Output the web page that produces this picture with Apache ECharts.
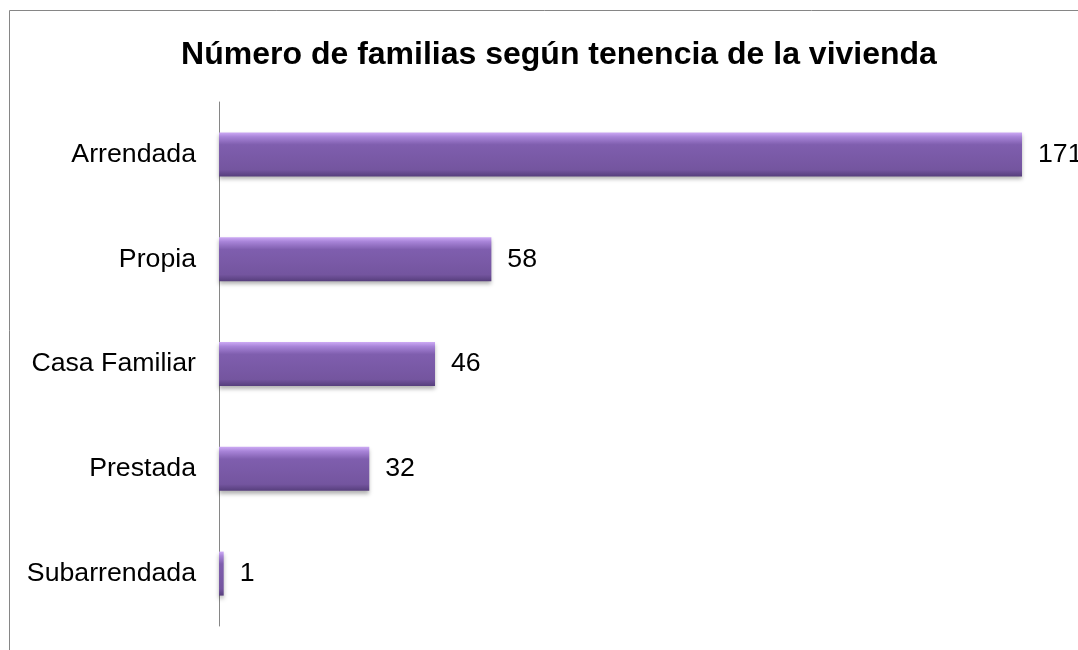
<!DOCTYPE html>
<html>
<head>
<meta charset="utf-8">
<script src="https://cdn.jsdelivr.net/npm/echarts@6/dist/echarts.min.js"></script>
<style>
  html, body { margin: 0; padding: 0; background: #fff; }
  #chart { width: 1078px; height: 650px; }
</style>
</head>
<body>
<div id="chart"></div>
<script>
const categories = ["Arrendada", "Propia", "Casa Familiar", "Prestada", "Subarrendada"]
const values = [171, 58, 46, 32, 1]
const titleText = "Número de familias según tenencia de la vivienda"

const fontFamily = "'Liberation Sans', Arial, sans-serif"
const chart = echarts.init(document.getElementById("chart"))

chart.setOption({
  animation: false,
  backgroundColor: "#fff",
  title: {
    text: titleText,
    left: 554,
    top: 34,
    textAlign: "center",
    textStyle: { fontFamily: fontFamily, fontSize: 32, fontWeight: "bold", color: "#000" }
  },
  // chart area frame, runs past the right and bottom edges
  graphic: [
    {
      type: "rect",
      shape: { x: 9.5, y: 10.5, width: 1200, height: 800 },
      style: { fill: "none", stroke: "#868686", lineWidth: 1 },
      silent: true
    }
  ],
  grid: { left: 219, right: 56, top: 102, bottom: 24 },
  xAxis: {
    type: "value",
    min: 0,
    max: 171,
    show: false
  },
  yAxis: {
    type: "category",
    data: categories,
    inverse: true,
    axisLine: { lineStyle: { color: "#868686", width: 1 } },
    axisTick: { show: false },
    axisLabel: { fontFamily: fontFamily, fontSize: 26.7, color: "#000", margin: 23 }
  },
  series: [
    {
      type: "bar",
      data: values,
      barWidth: "42%",
      itemStyle: {
        color: new echarts.graphic.LinearGradient(0, 0, 0, 1, [
          { offset: 0, color: "#cdaaf5" },
          { offset: 0.1, color: "#a884d8" },
          { offset: 0.28, color: "#7f5eae" },
          { offset: 0.85, color: "#74559f" },
          { offset: 1, color: "#563e7c" }
        ]),
        shadowColor: "rgba(0,0,0,0.3)",
        shadowBlur: 4,
        shadowOffsetY: 3
      },
      label: {
        show: true,
        position: "right",
        distance: 16,
        fontFamily: fontFamily,
        fontSize: 26.7,
        color: "#000"
      }
    }
  ]
})
</script>
</body>
</html>
